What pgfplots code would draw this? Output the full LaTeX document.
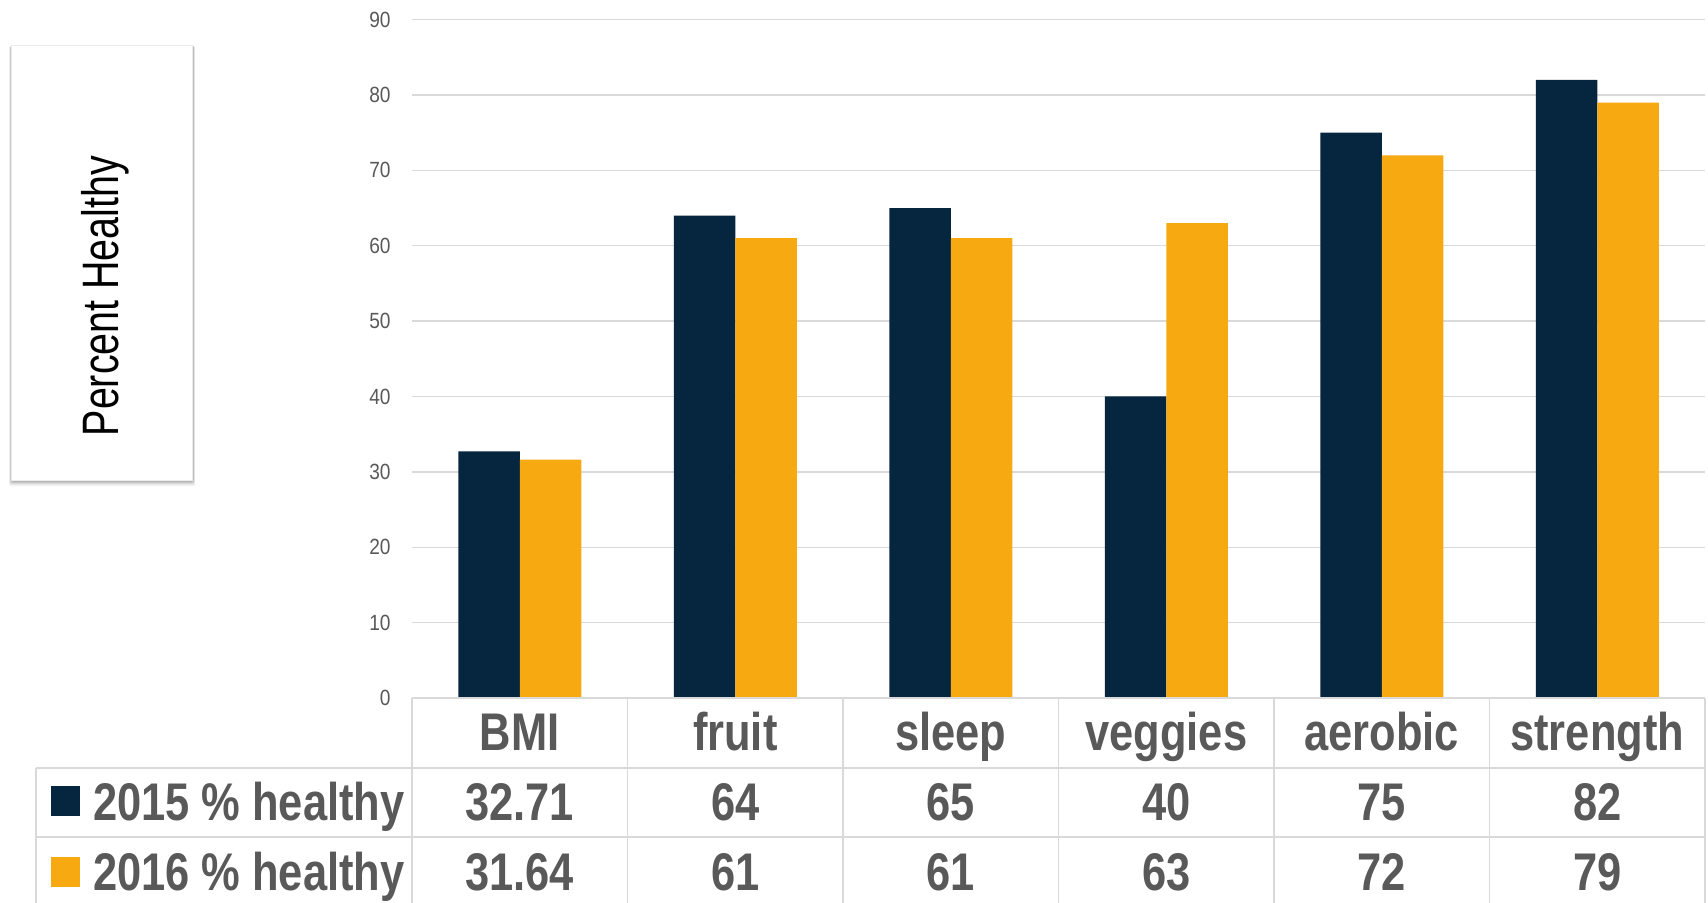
\documentclass[border=0pt]{standalone}
\usepackage{pgfplots}
\pgfplotsset{compat=1.18}
\usepackage{fontspec}
\setmainfont{Liberation Sans}
\newfontfamily\ticknarrow[FakeStretch=0.87]{Liberation Sans}
\newfontfamily\tabfont[FakeStretch=0.82]{Liberation Sans Bold}
\newfontfamily\labfont[FakeStretch=0.77]{Liberation Sans}
\definecolor{navy}{HTML}{06253F}
\definecolor{gold}{HTML}{F7A912}
\definecolor{txtgray}{HTML}{595959}
\definecolor{gridgray}{HTML}{D9D9D9}

\pgfplotstableread{
x v2015 v2016
0 32.71 31.64
1 64 61
2 65 61
3 40 63
4 75 72
5 82 79
}\datatab

\begin{document}
\begin{tikzpicture}[x=1pt,y=1pt]
\useasboundingbox (0,0) rectangle (854,-451.5);
% label box with soft shadow
\foreach \d/\o in {3.2/0.04,2.6/0.05,2.0/0.07,1.4/0.09,0.8/0.11} {
  \fill[black,opacity=\o,rounded corners=1pt] (5.8-\d*0.4,-22.5-\d*0.2) rectangle (96.4+\d*0.4,-240-\d);
}
\fill[white,draw=black!8,line width=0.4pt] (5.8,-22.5) rectangle (96.4,-240);
\node[rotate=90,anchor=base,inner sep=0pt,font=\labfont\fontsize{25.6}{30}\selectfont,text=black] at (59,-148) {Percent Healthy};

\begin{axis}[
  at={(206pt,-349pt)}, anchor=south west,
  scale only axis, width=646.5pt, height=339.2pt,
  ymin=0, ymax=90, xmin=-0.5, xmax=5.5,
  ybar=0pt, bar width=30.75pt,
  ytick={0,10,...,90}, xtick=\empty,
  ymajorgrids, grid style={gridgray,line width=0.75pt},
  axis line style={draw=none},
  major tick length=0pt,
  /pgf/number format/assume math mode=true,
  yticklabel style={font=\ticknarrow\fontsize{11}{13}\selectfont, text=txtgray, inner sep=0pt, anchor=east, xshift=-10.5pt},
  clip=false,
]
\addplot[fill=navy,draw=none] table[x=x,y=v2015] {\datatab};
\addplot[fill=gold,draw=none] table[x=x,y=v2016] {\datatab};
\end{axis}

% data table
\begin{scope}[gridgray,line width=0.75pt]
\draw (206,-349) -- (852.5,-349);
\draw (18,-384) -- (852.5,-384);
\draw (18,-418.5) -- (852.5,-418.5);
\draw (18,-384) -- (18,-451.5);
\foreach \xx in {206,313.75,421.5,529.25,637,744.75,852.5} {\draw (\xx,-349) -- (\xx,-451.5);}
\end{scope}

\begin{scope}[every node/.style={anchor=base,inner sep=0pt,text=txtgray,font=\tabfont\fontsize{26.5}{30}\selectfont}]
\node at (259.875,-375) {BMI};
\node at (367.625,-375) {fruit};
\node at (475.375,-375) {sleep};
\node at (583.125,-375) {veggies};
\node at (690.875,-375) {aerobic};
\node at (798.625,-375) {strength};
\node at (259.875,-410) {32.71};
\node at (367.625,-410) {64};
\node at (475.375,-410) {65};
\node at (583.125,-410) {40};
\node at (690.875,-410) {75};
\node at (798.625,-410) {82};
\node at (259.875,-445) {31.64};
\node at (367.625,-445) {61};
\node at (475.375,-445) {61};
\node at (583.125,-445) {63};
\node at (690.875,-445) {72};
\node at (798.625,-445) {79};
\node[anchor=base west] at (46.3,-410) {2015 \% healthy};
\node[anchor=base west] at (46.3,-445) {2016 \% healthy};
\end{scope}
\fill[navy] (25.5,-393) rectangle (40,-408);
\fill[gold] (25.5,-428.5) rectangle (40,-443.5);
\end{tikzpicture}
\end{document}
